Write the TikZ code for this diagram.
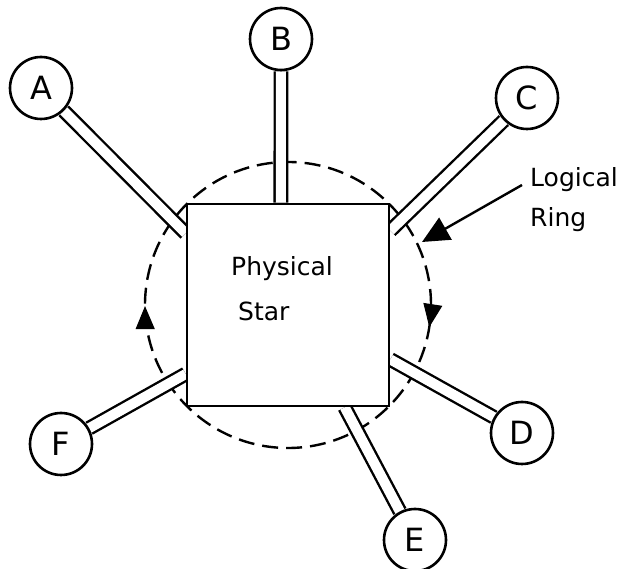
\documentclass[tikz,border=0pt]{standalone}
\usepackage{fontspec}
\setmainfont{DejaVu Sans}
\usetikzlibrary{arrows.meta,positioning,backgrounds,decorations.markings}

\begin{document}
\begin{tikzpicture}[x=1pt, y=1pt, >=Stealth,
  stn/.style={circle,draw,line width=2.6pt,fill=white,minimum size=62pt,inner sep=0pt,
    font=\fontsize{32}{38}\selectfont},
  hub/.style={rectangle,draw,line width=2.6pt,fill=white,minimum size=202pt,inner sep=0pt},
  cable/.style={line width=2.4pt,double=white,double distance=10pt},
  lbl/.style={inner sep=0pt,anchor=base west,font=\fontsize{25}{30}\selectfont}]
\useasboundingbox (0,0) rectangle (620,569);
% --- physical star ---
\node[hub] (sq) at (288,264) {};
\node[stn] (A) at (41,481) {A};
\node[stn] (B) at (281,530) {B};
\node[stn] (C) at (527,471) {C};
\node[stn] (D) at (522,136) {D};
\node[stn] (E) at (415,29) {E};
\node[stn] (F) at (61,125) {F};
\node[lbl] (phys) at (231,293) {Physical};
\node[lbl] (star) at (238,248) {Star};
% --- logical ring, behind the cables ---
\begin{scope}[on background layer]
  \draw[line width=2.4pt, dash pattern=on 16pt off 8pt, postaction={decorate},
    decoration={markings,
      mark=at position 0.5012 with {\arrowreversed[line width=1pt]{Triangle[length=23pt,width=19pt]}},
      mark=at position 0.9753 with {\arrowreversed[line width=1pt]{Triangle[length=23pt,width=19pt]}}}]
    (sq.center) circle[radius=143];
  \draw[cable] (A) -- (sq.145);
  \draw[cable] (B) -- (sq.94);
  \draw[cable] (C) -- (sq.36);
  \draw[cable] (D) -- (sq.-28);
  \draw[cable] (E) -- (sq.-61);
  \draw[cable] (F) -- (sq.214);
\end{scope}
% --- label with pointer ---
\node[lbl] (lg) at (530,382) {Logical};
\node[lbl] (rg) at (530,342) {Ring};
\coordinate (tip) at (422,327);
\draw[line width=2.4pt,-{Triangle[length=27pt,width=25pt]}] ([shift={(-8,2)}]lg.base west) -- (tip);
\end{tikzpicture}
\end{document}
